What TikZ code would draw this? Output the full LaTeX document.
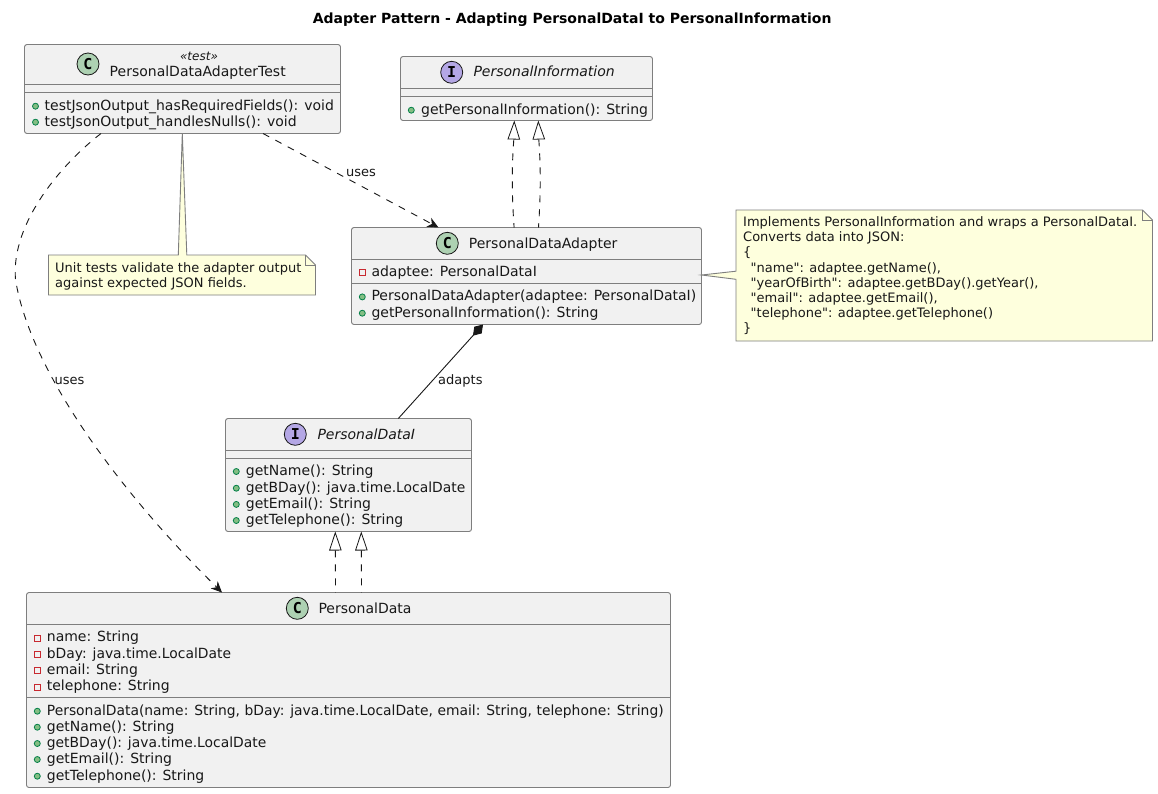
\documentclass[tikz,border=0pt]{standalone}
\usepackage{fontspec}
\setmainfont{DejaVu Sans}
\newfontfamily\plainfont{DejaVu Sans}
\newfontfamily\spotfont{DejaVu Sans Mono}
\usetikzlibrary{arrows.meta,calc}
\definecolor{ink}{HTML}{181818}
\definecolor{rim}{HTML}{7E7E7E}
\definecolor{boxfill}{HTML}{F1F1F1}
\definecolor{notefill}{HTML}{FEFFDD}
\definecolor{classspot}{HTML}{ADD1B2}
\definecolor{ifacespot}{HTML}{B4A7E5}
\definecolor{pubfill}{HTML}{84BE84}
\definecolor{publine}{HTML}{038048}
\definecolor{privline}{HTML}{C82930}
\tikzset{
  x=1pt,y=-1pt,
  umlbox/.style={draw=rim,fill=boxfill,line width=.9pt,rounded corners=2.5pt,inner sep=0pt,outer sep=0pt,anchor=north west},
  sepline/.style={draw=rim,line width=.9pt},
  spotc/.style={circle,draw=ink,line width=.8pt,fill=classspot,minimum size=22pt,inner sep=0pt,font=\spotfont\bfseries\fontsize{15}{15}\selectfont},
  spoti/.style={spotc,fill=ifacespot},
  titletext/.style={anchor=base west,inner sep=0pt,font=\fontsize{14}{14}\selectfont,text=ink},
  itatext/.style={titletext,font=\fontsize{14}{14}\selectfont\itshape},
  stereotext/.style={anchor=base,inner sep=0pt,font=\fontsize{12}{12}\selectfont\itshape,text=ink},
  membertext/.style={anchor=base west,inner sep=0pt,font=\fontsize{14}{14}\selectfont,text=ink},
  notetext/.style={anchor=base west,inner sep=0pt,font=\plainfont\fontsize{13}{13}\selectfont,text=ink},
  edgelabel/.style={anchor=base west,inner sep=0pt,font=\fontsize{13}{13}\selectfont,text=ink},
  notepath/.style={draw=rim,fill=notefill,line width=.9pt,line join=miter},
  notefold/.style={draw=rim,line width=.9pt},
  edge/.style={draw=ink,line width=.9pt},
  dashedge/.style={edge,dash pattern=on 7pt off 7pt},
  depend/.style={dashedge,-{Stealth[length=11pt,width=10pt,inset=3.5pt,color=ink]}},
  realize/.style={dashedge,{Triangle[open,length=19pt,width=12.5pt,color=ink,fill=white,line width=.8pt]}-},
  compose/.style={edge,{Diamond[length=15pt,width=10pt,color=ink]}-},
}
\newcount\memc
\newcommand{\umlclass}[7]{% name x1 y1 x2 y2 sep1 sep2
  \node[umlbox,minimum width={(#4-#2)*1pt},minimum height={(#5-#3)*1pt}] (#1) at (#2,#3) {};
  \draw[sepline] (#1.north west |- 0,#6) -- (#1.north east |- 0,#6);
  \draw[sepline] (#1.north west |- 0,#7) -- (#1.north east |- 0,#7);
}
\newcommand{\pubm}[4]{% iconx textx baseline text
  \global\advance\memc 1
  \fill[pubfill,draw=publine,line width=.8pt] (#1,#3-3.8) circle[radius=3pt];
  \node[membertext] (mem\the\memc) at (#2,#3) {#4};
}
\newcommand{\privm}[4]{%
  \global\advance\memc 1
  \draw[privline,line width=.8pt] (#1-3,#3-6.5) rectangle (#1+3,#3-.5);
  \node[membertext] (mem\the\memc) at (#2,#3) {#4};
}
\newcommand{\tighter}[1]{\scalebox{.991}[1]{#1}}
\begin{document}
\begin{tikzpicture}
\useasboundingbox (0,0) rectangle (1158,793);
\fill[white] (0,0) rectangle (1158,793);
\node[anchor=base,inner sep=0pt,font=\fontsize{14}{14}\selectfont\bfseries,text=black] (title) at (572.2,23.2) {Adapter Pattern - Adapting PersonalDataI to PersonalInformation};

% classes
\umlclass{test}{24.5}{44.5}{340.5}{133.5}{84.5}{92.5}
\node[spotc] (testspot) at (88,64) {C};
\node[stereotext] (teststereo) at (199,60) {«test»};
\node[titletext] (testname) at (109.5,76) {PersonalDataAdapterTest};
\pubm{35.5}{44.5}{110}{testJsonOutput\_hasRequiredFields(): void}
\pubm{35.5}{44.5}{126}{testJsonOutput\_handlesNulls(): void}

\umlclass{info}{400.5}{56.5}{652.5}{120.5}{88.5}{96.5}
\node[spoti] (infospot) at (451.7,72.3) {I};
\node[itatext] (infoname) at (473.3,76.7) {PersonalInformation};
\pubm{411.3}{421}{114}{getPersonalInformation(): String}

\umlclass{adapter}{351.5}{227.5}{701.5}{324.5}{259.5}{283.5}
\node[spotc] (adapterspot) at (447.3,243.3) {C};
\node[titletext] (adaptername) at (468.7,248.3) {PersonalDataAdapter};
\privm{362.3}{371.3}{276.3}{adaptee: PersonalDataI}
\pubm{362.3}{371.3}{300.7}{PersonalDataAdapter(adaptee: PersonalDataI)}
\pubm{362.3}{371.3}{317}{getPersonalInformation(): String}

\umlclass{datai}{225.5}{418.5}{471.5}{531.5}{450.5}{458.5}
\node[spoti] (dataispot) at (295.3,434.3) {I};
\node[itatext] (datainame) at (317.3,439) {PersonalDataI};
\pubm{236.3}{245.7}{475.3}{getName(): String}
\pubm{236.3}{245.7}{492}{\tighter{getBDay(): java.time.LocalDate}}
\pubm{236.3}{245.7}{508.2}{getEmail(): String}
\pubm{236.3}{245.7}{524.3}{getTelephone(): String}

\umlclass{data}{26.5}{592.5}{670.5}{787.5}{624.5}{697.5}
\node[spotc] (dataspot) at (297.3,608.3) {C};
\node[titletext] (dataname) at (318.3,613.3) {PersonalData};
\privm{37.3}{46.7}{641.6}{name: String}
\privm{37.3}{46.7}{658.3}{\tighter{bDay: java.time.LocalDate}}
\privm{37.3}{46.7}{674.3}{email: String}
\privm{37.3}{46.7}{690.4}{telephone: String}
\pubm{37.3}{46.7}{715}{\tighter{PersonalData(name: String, bDay: java.time.LocalDate, email: String, telephone: String)}}
\pubm{37.3}{46.7}{731}{getName(): String}
\pubm{37.3}{46.7}{747.3}{\tighter{getBDay(): java.time.LocalDate}}
\pubm{37.3}{46.7}{763.3}{getEmail(): String}
\pubm{37.3}{46.7}{780}{getTelephone(): String}

% notes
\coordinate (smalltip) at ($(test.south west)+(157.8,0)$);
\path[notepath] (48.5,255) -- (178.3,255) -- (smalltip) -- (186.8,255) -- (305.5,255) -- (315.5,265) -- (315.5,295) -- (48.5,295) -- cycle;
\path[notefold] (305.5,255) -- (305.5,265) -- (315.5,265);
\node[notetext] (smallnote1) at (55,272.7) {Unit tests validate the adapter output};
\node[notetext] (smallnote2) at (55,287.7) {against expected JSON fields.};

\coordinate (bigtip) at ($(adapter.north east)+(0,47.5)$);
\path[notepath] (736,210) -- (736,271.2) -- (bigtip) -- (736,279.3) -- (736,341) -- (1152.5,341) -- (1152.5,220) -- (1142.5,210) -- cycle;
\path[notefold] (1142.5,210) -- (1142.5,220) -- (1152.5,220);
\node[notetext] (bn1) at (743,226.7) {Implements PersonalInformation and wraps a PersonalDataI.};
\node[notetext] (bn2) at (743,241.8) {Converts data into JSON:};
\node[notetext] (bn3) at (743,256.9) {\{};
\node[notetext] (bn4) at (750.5,272) {"name": adaptee.getName(),};
\node[notetext] (bn5) at (750.5,287.1) {"yearOfBirth": adaptee.getBDay().getYear(),};
\node[notetext] (bn6) at (750.5,302.2) {"email": adaptee.getEmail(),};
\node[notetext] (bn7) at (750.5,317.3) {"telephone": adaptee.getTelephone()};
\node[notetext] (bn8) at (743,332.4) {\}};

% connectors
\draw[depend] ($(test.south west)+(76.5,0)$) .. controls ($(test.south west)+(40,28)$) and ($(test.south west)+(-14,88)$) .. ($(test.south west)+(-9,146)$) .. controls ($(test.south west)+(5.5,236.5)$) and ($(data.north west)+(91.5,-102.5)$) .. ($(data.north west)+(195.5,0)$);
\draw[depend] ($(test.south west)+(238.5,0)$) -- ($(adapter.north west)+(87,0)$);
\draw[realize] ($(info.south west)+(113.8,0)$) -- ($(info.south west)+(113.3,19)$) .. controls ($(info.south west)+(111,50)$) and ($(adapter.north west)+(160.5,-30)$) .. ($(adapter.north west)+(162.6,0)$);
\draw[realize] ($(info.south west)+(137.8,0)$) -- ($(info.south west)+(138.3,19)$) .. controls ($(info.south west)+(140.5,50)$) and ($(adapter.north west)+(189,-30)$) .. ($(adapter.north west)+(187,0)$);
\draw[compose] ($(adapter.south west)+(131.5,0)$) -- ($(datai.north west)+(172.8,0)$);
\draw[realize] ($(datai.south west)+(109.8,0)$) -- ($(data.north west)+(309,0)$);
\draw[realize] ($(datai.south west)+(135.8,0)$) -- ($(data.north west)+(335,0)$);
\node[edgelabel] (uses1) at (346,176.5) {uses};
\node[edgelabel] (uses2) at (54.5,384.5) {uses};
\node[edgelabel] (adapts) at (438,384.5) {adapts};
\end{tikzpicture}
\end{document}
